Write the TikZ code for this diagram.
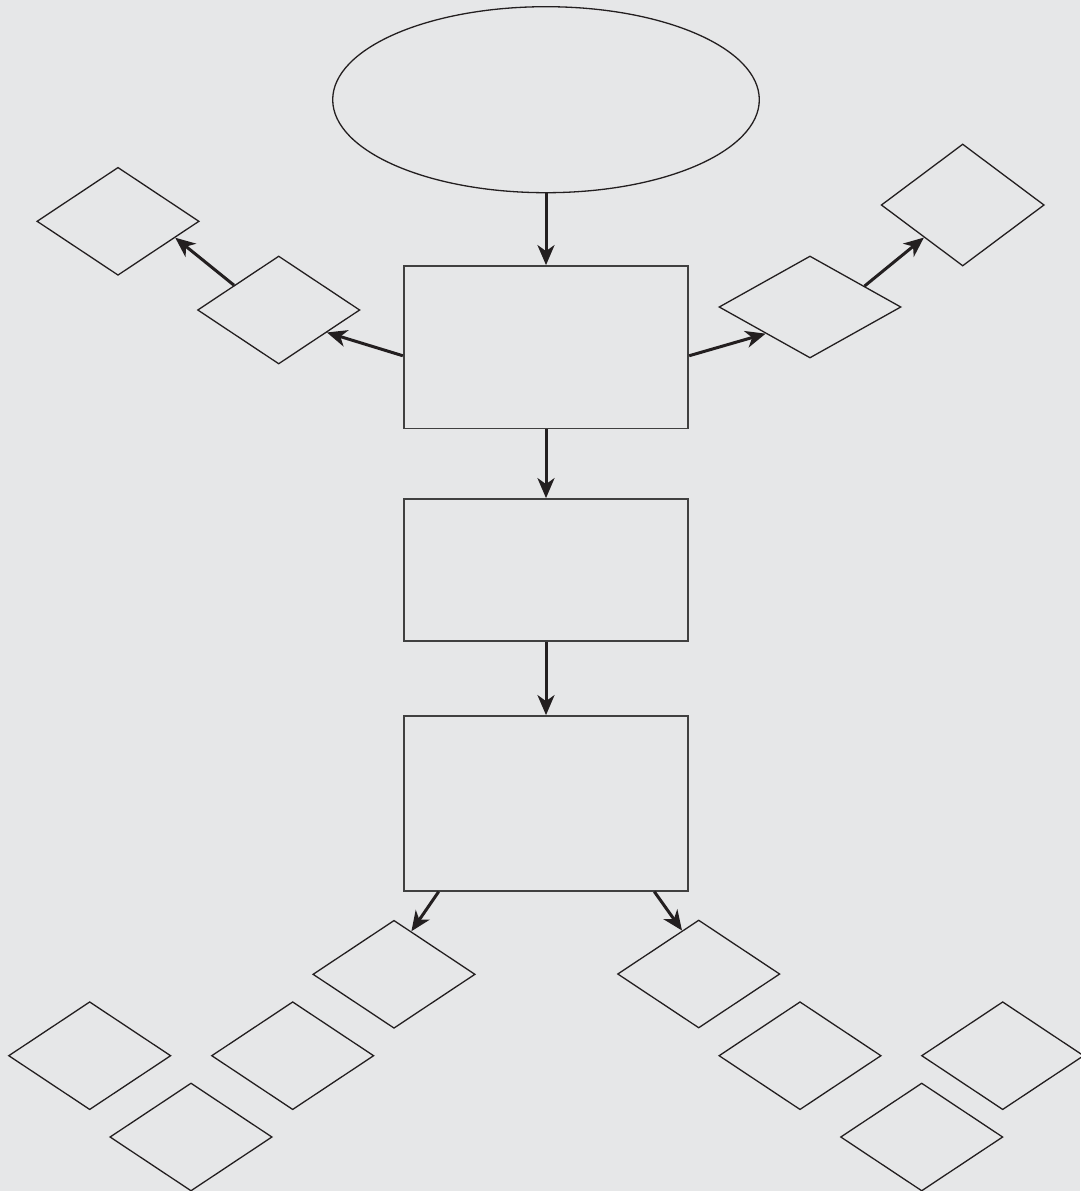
\documentclass[tikz,border=0pt]{standalone}
\usetikzlibrary{shapes.geometric,arrows.meta}
\definecolor{bg}{RGB}{230,231,232}
\definecolor{ink}{RGB}{35,31,32}
\definecolor{boxline}{RGB}{64,64,64}
\begin{document}
\begin{tikzpicture}[x=1pt,y=-1pt,
  dia/.style={draw=ink, line width=1.3pt, diamond, inner sep=0pt,
              minimum width=162.3pt, minimum height=108pt},
  boxnode/.style={draw=boxline, line width=1.8pt, rectangle, inner sep=0pt,
              minimum width=284.5pt},
  oval/.style={draw=ink, line width=1.3pt, ellipse, inner sep=0pt,
              minimum width=426.6pt, minimum height=186pt},
  arr/.style={draw=ink, line width=3pt,
              -{Stealth[length=20pt,width=17pt,inset=6pt]}}]
\fill[bg] (0,0) rectangle (1080,1191);
\useasboundingbox (0,0) rectangle (1080,1191);

% main column
\node[oval] (E) at (546,99.7) {};
\node[boxnode, minimum height=162.5pt] (R1) at (546,347.25) {};
\node[boxnode, minimum height=142pt] (R2) at (546,570) {};
\node[boxnode, minimum height=174.7pt] (R3) at (546,803.35) {};

% side diamonds
\node[dia] (DL1) at (118,221.3) {};
\node[dia] (DL2) at (278.7,310) {};
\node[dia, minimum width=182pt, minimum height=102pt] (DR1) at (810,307) {};
\node[dia, minimum width=163pt, minimum height=122pt] (DR2) at (962.7,205) {};

% bottom diamonds
\node[dia] (DB1) at (394,974.3) {};
\node[dia] (DB2) at (698.7,974) {};
\node[dia] (DB3) at (89.7,1055.7) {};
\node[dia] (DB4) at (292.7,1055.7) {};
\node[dia] (DB5) at (191,1137) {};
\node[dia] (DB6) at (800,1055.7) {};
\node[dia] (DB7) at (1002.7,1055.7) {};
\node[dia] (DB8) at (921.7,1137) {};

% connectors
\draw[arr] (E.south) -- (R1.north);
\draw[arr] (R1.south) -- (R2.north);
\draw[arr] (R2.south) -- (R3.north);

\draw[arr] ([yshift=-8.5pt]R1.west) -- (DL2.-25.8);
\draw[arr] (DL2.151.8) -- (DL1.-16.6);
\draw[arr] ([yshift=-8.5pt]R1.east) -- (DR1.211.5);
\draw[arr] (DR1.21.4) -- (DR2.220.2);

\draw[arr] ([xshift=-107.3pt]R3.south) -- (DB1.68.7);
\draw[arr] ([xshift=108.3pt]R3.south) -- (DB2.111.4);
\end{tikzpicture}
\end{document}
